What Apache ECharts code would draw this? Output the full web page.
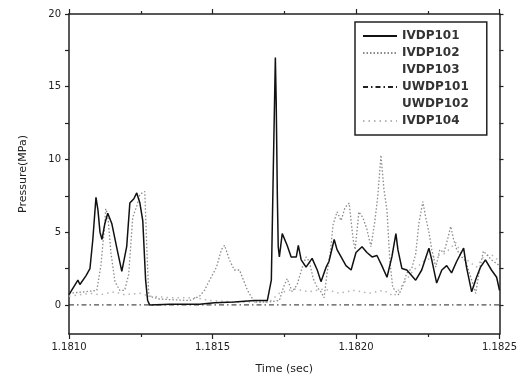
<!DOCTYPE html>
<html><head><meta charset="utf-8">
<script src="https://cdn.jsdelivr.net/npm/echarts@6/dist/echarts.min.js"></script>
<style>html,body{margin:0;padding:0;background:#fff}#c{width:520px;height:380px}</style>
</head><body><div id="c"></div>
<script>
const seriesNames = ['IVDP101','IVDP102','IVDP103','UWDP101','UWDP102','IVDP104'];
const xTickLabels = [1.1810, 1.1815, 1.1820, 1.1825];
const yTickLabels = [0, 5, 10, 15, 20];
const yTickMarks = [0, 2.5, 5, 7.5, 10, 12.5, 15, 17.5, 20];

const ivdp101Time = [1.181000,1.181031,1.181038,1.181059,1.181073,1.181083,1.181094,1.181101,1.181108,1.181115,1.181125,1.181135,1.181149,1.181170,1.181184,1.181201,1.181212,1.181226,1.181236,1.181247,1.181257,1.181267,1.181274,1.181281,1.181351,1.181455,1.181507,1.181576,1.181646,1.181691,1.181705,1.181712,1.181719,1.181722,1.181726,1.181729,1.181733,1.181743,1.181760,1.181774,1.181792,1.181799,1.181809,1.181826,1.181847,1.181865,1.181878,1.181896,1.181906,1.181924,1.181934,1.181965,1.181983,1.182000,1.182021,1.182038,1.182056,1.182073,1.182090,1.182108,1.182125,1.182139,1.182146,1.182160,1.182177,1.182208,1.182229,1.182254,1.182264,1.182281,1.182299,1.182316,1.182333,1.182351,1.182375,1.182385,1.182403,1.182420,1.182434,1.182451,1.182472,1.182490,1.182500];
const ivdp101Value = [0.7,1.7,1.4,2.0,2.5,4.5,7.4,6.5,5.0,4.5,5.6,6.3,5.6,3.6,2.3,4.0,7.0,7.3,7.7,7.0,5.8,1.7,0.3,0.0,0.05,0.05,0.15,0.2,0.3,0.3,1.7,9.5,17.0,13.9,7.4,4.0,3.3,4.9,4.1,3.3,3.3,4.1,3.1,2.6,3.2,2.4,1.6,2.6,3.0,4.5,3.8,2.7,2.4,3.6,4.0,3.6,3.3,3.4,2.7,1.9,3.3,4.9,3.8,2.5,2.4,1.7,2.4,3.9,3.1,1.5,2.4,2.7,2.2,3.0,3.9,2.6,0.9,1.9,2.6,3.1,2.4,1.9,1.0];

const ivdp102Time = [1.181000,1.181056,1.181097,1.181111,1.181122,1.181128,1.181135,1.181146,1.181160,1.181177,1.181194,1.181208,1.181222,1.181236,1.181247,1.181264,1.181271,1.181278,1.181316,1.181420,1.181455,1.181472,1.181490,1.181514,1.181531,1.181542,1.181559,1.181576,1.181594,1.181622,1.181646,1.181698,1.181733,1.181747,1.181760,1.181778,1.181795,1.181813,1.181826,1.181837,1.181851,1.181865,1.181878,1.181889,1.181899,1.181910,1.181920,1.181934,1.181948,1.181962,1.181976,1.181990,1.181997,1.182010,1.182024,1.182038,1.182052,1.182066,1.182076,1.182087,1.182097,1.182108,1.182118,1.182128,1.182149,1.182163,1.182177,1.182194,1.182208,1.182219,1.182233,1.182243,1.182254,1.182264,1.182278,1.182292,1.182306,1.182319,1.182330,1.182340,1.182351,1.182368,1.182382,1.182392,1.182403,1.182417,1.182431,1.182444,1.182458,1.182472,1.182486,1.182500];
const ivdp102Value = [0.8,0.9,1.0,2.7,5.0,6.6,6.2,3.6,1.6,1.0,1.0,2.1,6.0,6.8,7.6,7.8,4.0,0.6,0.4,0.3,0.6,1.0,1.7,2.6,3.8,4.1,3.1,2.4,2.4,1.0,0.2,0.2,0.3,1.2,1.8,0.9,1.4,2.6,3.3,3.0,1.8,1.2,0.9,0.5,2.2,3.5,5.5,6.4,5.8,6.7,7.0,4.5,3.8,6.4,6.0,5.2,4.0,5.8,7.5,10.3,8.0,6.5,3.0,1.2,0.7,1.3,2.2,2.5,3.5,5.6,7.1,6.0,5.0,3.8,2.6,3.8,3.6,4.5,5.4,4.5,3.8,3.3,3.0,2.4,1.7,0.8,2.5,3.7,3.4,3.1,2.9,2.7];

const ivdp103Time = [];
const ivdp103Value = [];

const uwdp101Time = [1.181000, 1.182500];
const uwdp101Value = [0, 0];

const uwdp102Time = [];
const uwdp102Value = [];

const ivdp104Time = [1.181000,1.181073,1.181108,1.181160,1.181194,1.181247,1.181281,1.181351,1.181438,1.181490,1.181594,1.181698,1.181733,1.181785,1.181837,1.181889,1.181941,1.181993,1.182045,1.182097,1.182132,1.182167,1.182201,1.182236,1.182271,1.182306,1.182330,1.182347,1.182365,1.182392,1.182420,1.182444,1.182469,1.182500];
const ivdp104Value = [0.6,0.8,0.7,0.9,0.7,0.8,0.6,0.5,0.5,0.3,0.2,0.2,0.8,1.1,0.9,1.1,0.8,1.0,0.8,1.0,0.6,1.5,2.4,3.0,3.3,3.5,3.9,4.3,3.6,3.0,2.6,3.3,3.5,3.0];

function zip(t, v) { return t.map((x, i) => [x, v[i]]); }

const styles = [
  { color: '#111', width: 1.5, type: 'solid' },
  { color: '#8a8a8a', width: 1.3, type: [1.5, 2] },
  { color: '#ffffff', width: 1, type: 'solid' },
  { color: '#222', width: 1, type: [5, 3, 1.5, 3] },
  { color: '#ffffff', width: 1, type: 'solid' },
  { color: '#b5b5b5', width: 1.5, type: [1.5, 4] }
];
const dataSets = [
  zip(ivdp101Time, ivdp101Value),
  zip(ivdp102Time, ivdp102Value),
  zip(ivdp103Time, ivdp103Value),
  zip(uwdp101Time, uwdp101Value),
  zip(uwdp102Time, uwdp102Value),
  zip(ivdp104Time, ivdp104Value)
];
const drawOrder = [5, 1, 3, 0, 2, 4];

const axisLine = { show: true, onZero: false, lineStyle: { color: '#222', width: 1.5 } };
const fontFamily = 'DejaVu Sans';

const chart = echarts.init(document.getElementById('c'), null, { renderer: 'canvas' });
chart.setOption({
  animation: false,
  backgroundColor: '#fff',
  grid: { left: 69, right: 19, top: 14, bottom: 46 },
  legend: {
    orient: 'vertical',
    left: 355, top: 22,
    data: seriesNames,
    itemWidth: 34, itemHeight: 14, itemGap: 5,
    padding: [8, 18, 8, 7],
    borderColor: '#222', borderWidth: 1.5,
    backgroundColor: '#fff',
    selectedMode: false,
    itemStyle: { opacity: 0 },
    textStyle: { fontFamily: fontFamily, fontSize: 12, fontWeight: 'bold', color: '#333' }
  },
  xAxis: [
    {
      type: 'value', position: 'bottom',
      min: 1.1810, max: 1.1825, interval: 0.0005,
      name: 'Time (sec)', nameLocation: 'middle', nameGap: 30,
      nameTextStyle: { fontFamily: fontFamily, fontSize: 11, color: '#222' },
      axisLine: axisLine,
      axisTick: { show: true, inside: false, length: 5, lineStyle: { color: '#222', width: 1.2 } },
      minorTick: { show: true, splitNumber: 2, length: 3, lineStyle: { color: '#222', width: 1.2 } },
      axisLabel: { fontFamily: fontFamily, fontSize: 10, color: '#222', margin: 8,
        formatter: v => v.toFixed(4) },
      splitLine: { show: false }
    },
    {
      type: 'value', position: 'top',
      min: 1.1810, max: 1.1825, interval: 0.0005,
      axisLine: axisLine,
      axisTick: { show: true, inside: false, length: 5, lineStyle: { color: '#222', width: 1.2 } },
      minorTick: { show: true, splitNumber: 2, length: 3, lineStyle: { color: '#222', width: 1.2 } },
      axisLabel: { show: false },
      splitLine: { show: false }
    }
  ],
  yAxis: [
    {
      type: 'value', position: 'left',
      min: -2, max: 20,
      name: 'Pressure(MPa)', nameLocation: 'middle', nameGap: 40, nameRotate: 90,
      nameTextStyle: { fontFamily: fontFamily, fontSize: 11, color: '#222' },
      axisLine: axisLine,
      axisTick: { show: true, inside: false, length: 4, customValues: yTickMarks, lineStyle: { color: '#222', width: 1.2 } },
      axisLabel: { fontFamily: fontFamily, fontSize: 10, color: '#222', margin: 8, customValues: yTickLabels },
      splitLine: { show: false }
    },
    {
      type: 'value', position: 'right',
      min: -2, max: 20,
      axisLine: axisLine,
      axisTick: { show: true, inside: false, length: 4, customValues: yTickMarks, lineStyle: { color: '#222', width: 1.2 } },
      axisLabel: { show: false },
      splitLine: { show: false }
    }
  ],
  series: drawOrder.map(i => ({
    name: seriesNames[i],
    type: 'line',
    xAxisIndex: 0, yAxisIndex: 0,
    data: dataSets[i],
    showSymbol: false, symbol: 'none',
    silent: true,
    z: i === 0 ? 5 : 3,
    itemStyle: { color: styles[i].color },
    lineStyle: { color: styles[i].color, width: styles[i].width, type: styles[i].type }
  }))
});
</script>
</body></html>
